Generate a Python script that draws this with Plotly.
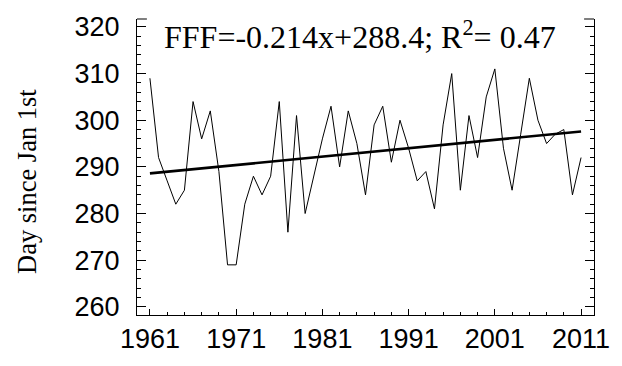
import plotly.graph_objects as go

# ---- data ----
years = list(range(1961, 2012))
day_values = [309, 292, 287, 282, 285, 304, 296, 302, 289, 269,
              269, 282, 288, 284, 288, 304, 276, 301, 280, 288,
              296, 303, 290, 302, 295, 284, 299, 303, 291, 300,
              294, 287, 289, 281, 299, 310, 285, 301, 292, 305,
              311, 294, 285, 297, 309, 300, 295, 297, 298, 284,
              292]
trend_years = [1961, 2011]
trend_values = [288.6, 297.6]
y_tickvals = [260, 270, 280, 290, 300, 310, 320]
x_tickvals = [1961, 1971, 1981, 1991, 2001, 2011]
x_ticktext = ["1961", "1971", "1981", "1991", "2001", "2011"]
equation_text = "FFF=-0.214x+288.4; R<sup>2</sup>= 0.47"
y_title = "Day since Jan 1st"

fig = go.Figure()
fig.add_trace(go.Scatter(x=years, y=day_values, mode="lines",
                         line=dict(color="black", width=1), showlegend=False))
fig.add_trace(go.Scatter(x=trend_years, y=trend_values, mode="lines",
                         line=dict(color="black", width=2.6), showlegend=False))

tick_font = dict(family="Liberation Sans, Arial, sans-serif", size=27, color="black")

fig.update_layout(
    width=622, height=366,
    margin=dict(l=137, r=23, t=16, b=50),
    paper_bgcolor="white", plot_bgcolor="white",
    xaxis=dict(range=[1959.5, 2012.5], tickvals=x_tickvals, ticktext=x_ticktext,
               ticks="inside", ticklen=6, tickwidth=1, tickcolor="black",
               minor=dict(dtick=2, tick0=1961, ticks="inside", ticklen=3),
               showline=True, linecolor="black", linewidth=1, mirror=False,
               showgrid=False, zeroline=False, tickfont=tick_font),
    yaxis=dict(range=[258.25, 321.7], tickvals=y_tickvals,
               ticks="inside", ticklen=9, tickwidth=1, tickcolor="black",
               minor=dict(dtick=2, tick0=260, ticks="inside", ticklen=4),
               showline=True, linecolor="black", linewidth=1, mirror="ticks",
               showgrid=False, zeroline=False, tickfont=tick_font,
               ticklabelstandoff=11),
    annotations=[
        dict(text=equation_text, xref="paper", yref="paper", x=0.487, y=0.945,
             xanchor="center", yanchor="middle", showarrow=False,
             font=dict(family="Liberation Serif, Times New Roman, serif", size=32, color="black")),
        dict(text=y_title, xref="paper", yref="paper", x=(26 - 137) / 462, y=0.45,
             xanchor="center", yanchor="middle", showarrow=False, textangle=-90,
             font=dict(family="Liberation Serif, Times New Roman, serif", size=26.5, color="black")),
    ],
    shapes=[
        dict(type="line", xref="paper", yref="paper", x0=0, x1=10 / 462, y0=1, y1=1,
             line=dict(color="black", width=1)),
        dict(type="line", xref="paper", yref="paper", x0=1 - 10 / 462, x1=1, y0=1, y1=1,
             line=dict(color="black", width=1)),
    ],
)

fig.write_html("out.html")
